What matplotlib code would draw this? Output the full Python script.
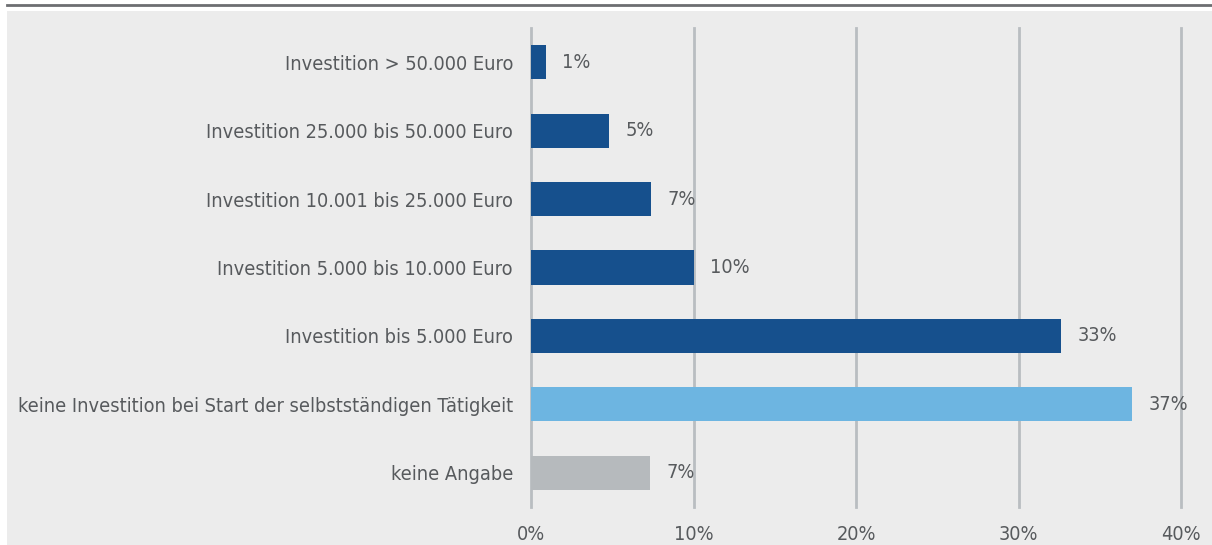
import matplotlib.pyplot as plt
from matplotlib.patches import Rectangle
from matplotlib.lines import Line2D

# Investitionsvolumen beim Start, Anteil in Prozent (von oben nach unten)
categories = [
    "Investition > 50.000 Euro",
    "Investition 25.000 bis 50.000 Euro",
    "Investition 10.001 bis 25.000 Euro",
    "Investition 5.000 bis 10.000 Euro",
    "Investition bis 5.000 Euro",
    "keine Investition bei Start der selbstständigen Tätigkeit",
    "keine Angabe",
]
shares = [0.9, 4.8, 7.4, 10.0, 32.6, 37.0, 7.3]
bar_colors = ["#16508d", "#16508d", "#16508d", "#16508d", "#16508d",
              "#6db5e1", "#b6babd"]
x_ticks = [0, 10, 20, 30, 40]

text_color = "#575a5d"
plt.rcParams['font.family'] = ['DejaVu Sans']
plt.rcParams['font.stretch'] = 'condensed'

fig = plt.figure(figsize=(12.12, 5.45), dpi=100)

# grauer Hintergrund und Linie oben
fig.patches.append(Rectangle((7 / 1212, 0), 1, 1 - 11 / 545, transform=fig.transFigure,
                             facecolor="#ececec", edgecolor="none", zorder=-10))
fig.lines.append(Line2D([7 / 1212, 1], [1 - 4.5 / 545] * 2, transform=fig.transFigure,
                        color="#6d6e71", linewidth=2, zorder=-10))

ax = fig.add_axes([531 / 1212, 38 / 545, 650 / 1212, 479 / 545])
ax.set_facecolor("none")

ypos = list(range(len(categories)))[::-1]
ax.barh(ypos, shares, height=0.5, color=bar_colors, zorder=3)

for y, v in zip(ypos, shares):
    ax.annotate(f"{v:.0f}%", (v, y), xytext=(12, 0), textcoords="offset points",
                ha="left", va="center", fontsize=14.3, color=text_color, zorder=4)

ax.set_xlim(0, 40)
ax.set_ylim(-0.5, 6.5)
ax.set_xticks(x_ticks)
ax.set_xticklabels([f"{t}%" for t in x_ticks])
ax.set_yticks(ypos)
ax.set_yticklabels(categories)
ax.tick_params(length=0, labelsize=14.3, labelcolor=text_color)
ax.tick_params(axis="y", pad=13)
ax.tick_params(axis="x", pad=13)

for t in x_ticks:
    ax.axvline(t, color="#b9bdc1", linewidth=2, zorder=1, clip_on=False)
for s in ax.spines.values():
    s.set_visible(False)

fig.savefig("out.png", dpi=100)
